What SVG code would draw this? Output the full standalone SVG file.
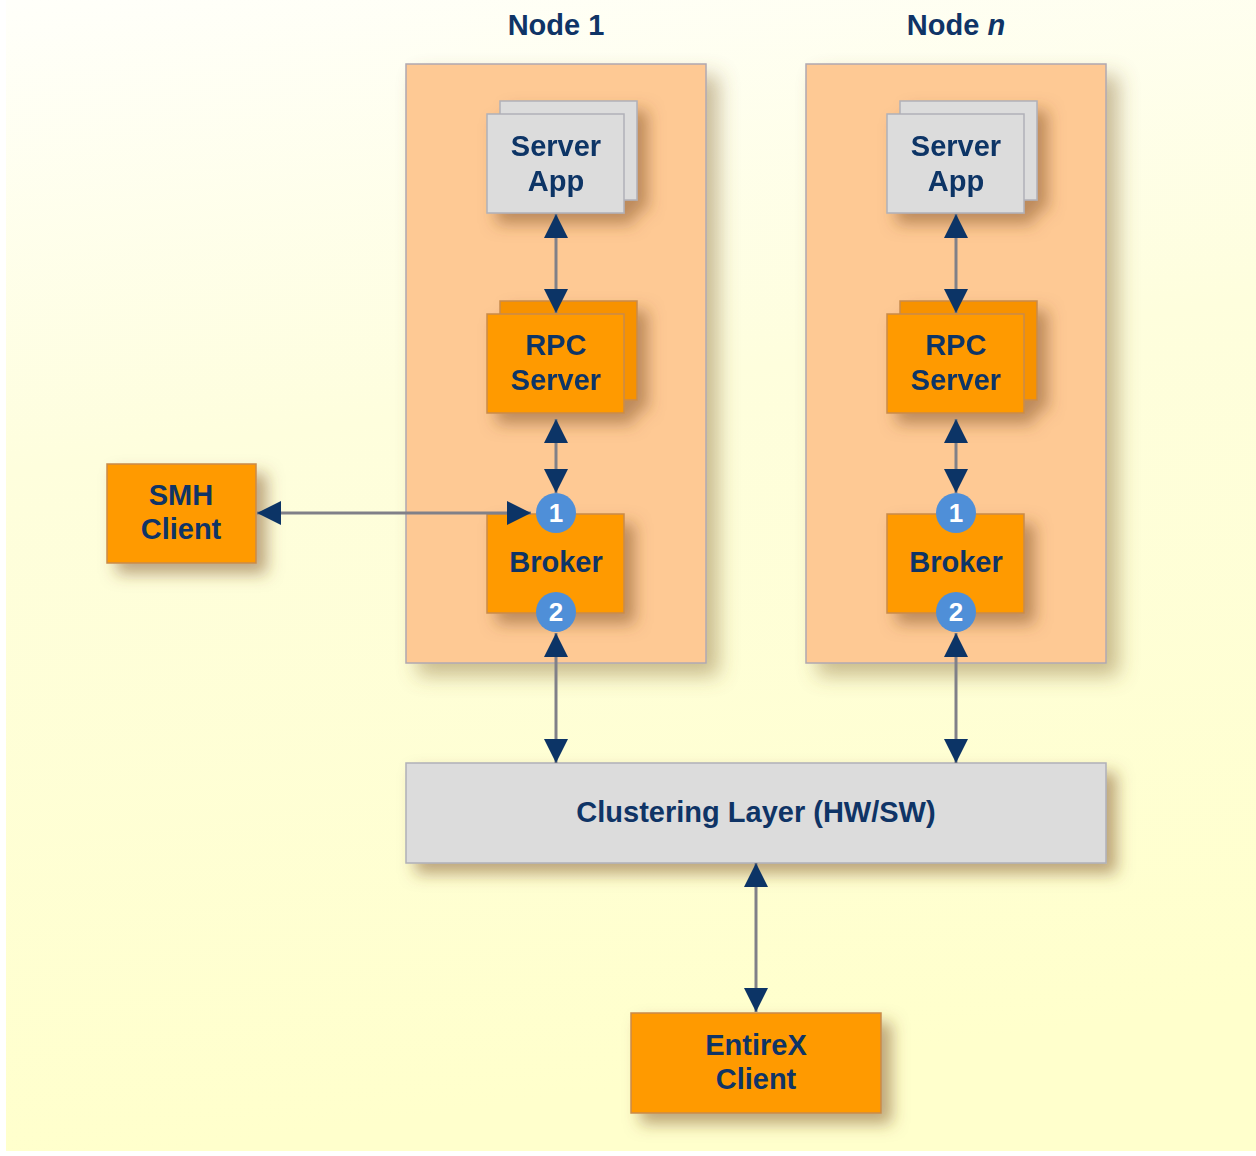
<svg xmlns="http://www.w3.org/2000/svg" width="1256" height="1156" viewBox="0 0 1256 1156">
  <defs>
    <linearGradient id="bg" x1="0" y1="0" x2="0.15" y2="1">
      <stop offset="0" stop-color="#fffffa"/>
      <stop offset="0.4" stop-color="#fefedd"/>
      <stop offset="1" stop-color="#ffffcc"/>
    </linearGradient>
    <filter id="shadow" x="-25%" y="-25%" width="160%" height="160%">
      <feDropShadow dx="10" dy="10" stdDeviation="8" flood-color="#7a4a20" flood-opacity="0.5"/>
    </filter>
    <filter id="shadowL" x="-20%" y="-10%" width="140%" height="130%">
      <feDropShadow dx="12" dy="12" stdDeviation="10" flood-color="#8a6a30" flood-opacity="0.45"/>
    </filter>
    <marker id="ah" viewBox="0 0 24 24" refX="24" refY="12" markerWidth="24" markerHeight="24" markerUnits="userSpaceOnUse" orient="auto-start-reverse">
      <path d="M0,0 L24,12 L0,24 Z" fill="#0c3466"/>
    </marker>
  </defs>
  <style>
    .cont { fill: #fec994; stroke: #b0a8b0; stroke-width: 1.5; }
    .gray { fill: #dcdcdc; stroke: #b0b0b8; stroke-width: 1.5; }
    .orange { fill: #ff9a00; stroke: #c98a4a; stroke-width: 1.5; }
    .orange2 { fill: #f79200; stroke: #c98a4a; stroke-width: 1.5; }
    .lbl { font-family: "Liberation Sans", Arial, Helvetica, sans-serif; font-weight: bold; font-size: 29px; fill: #0f3466; text-anchor: middle; }
    .num { font-family: "Liberation Sans", Arial, sans-serif; font-weight: bold; font-size: 26px; fill: #ffffff; text-anchor: middle; }
    .badge { fill: #4f8fd8; }
    .conn { stroke: #808088; stroke-width: 3; fill: none; marker-start: url(#ah); marker-end: url(#ah); }
  </style>

  <rect x="6" y="0" width="1250" height="1151" fill="url(#bg)"/>

  <!-- Node 1 container -->
  <g id="node1">
    <text class="lbl" x="556" y="35">Node 1</text>
    <rect class="cont" x="406" y="64" width="300" height="599" filter="url(#shadowL)"/>
  </g>
  <!-- Node n container -->
  <g id="noden">
    <text class="lbl" x="956" y="35">Node <tspan font-style="italic">n</tspan></text>
    <rect class="cont" x="806" y="64" width="300" height="599" filter="url(#shadowL)"/>
  </g>

  <!-- Server App -->
  <g id="serverapp1" filter="url(#shadow)">
    <rect class="gray" x="500" y="101" width="137" height="99"/>
    <rect class="gray" x="487" y="114" width="137" height="99"/>
    <text class="lbl" x="556" y="156">Server</text>
    <text class="lbl" x="556" y="191">App</text>
  </g>
  <g id="serverappn" filter="url(#shadow)">
    <rect class="gray" x="900" y="101" width="137" height="99"/>
    <rect class="gray" x="887" y="114" width="137" height="99"/>
    <text class="lbl" x="956" y="156">Server</text>
    <text class="lbl" x="956" y="191">App</text>
  </g>

  <!-- RPC Server -->
  <g id="rpc1" filter="url(#shadow)">
    <rect class="orange2" x="500" y="301" width="137" height="99"/>
    <rect class="orange" x="487" y="314" width="137" height="99"/>
    <text class="lbl" x="556" y="355">RPC</text>
    <text class="lbl" x="556" y="390">Server</text>
  </g>
  <g id="rpcn" filter="url(#shadow)">
    <rect class="orange2" x="900" y="301" width="137" height="99"/>
    <rect class="orange" x="887" y="314" width="137" height="99"/>
    <text class="lbl" x="956" y="355">RPC</text>
    <text class="lbl" x="956" y="390">Server</text>
  </g>

  <!-- Broker -->
  <g id="broker1">
    <rect class="orange" x="487" y="514" width="137" height="99" filter="url(#shadow)"/>
    <text class="lbl" x="556" y="572">Broker</text>
  </g>
  <g id="brokern">
    <rect class="orange" x="887" y="514" width="137" height="99" filter="url(#shadow)"/>
    <text class="lbl" x="956" y="572">Broker</text>
  </g>

  <!-- SMH Client -->
  <g id="smh">
    <rect class="orange" x="107" y="464" width="149" height="99" filter="url(#shadow)"/>
    <text class="lbl" x="181" y="505">SMH</text>
    <text class="lbl" x="181" y="539">Client</text>
  </g>

  <!-- Clustering Layer -->
  <g id="cluster">
    <rect class="gray" x="406" y="763" width="700" height="100" filter="url(#shadow)"/>
    <text class="lbl" x="756" y="822">Clustering Layer (HW/SW)</text>
  </g>

  <!-- EntireX Client -->
  <g id="entirex">
    <rect class="orange" x="631" y="1013" width="250" height="100" filter="url(#shadow)"/>
    <text class="lbl" x="756" y="1055">EntireX</text>
    <text class="lbl" x="756" y="1089">Client</text>
  </g>

  <!-- Connectors -->
  <g id="connectors">
    <line class="conn" x1="556" y1="214" x2="556" y2="313"/>
    <line class="conn" x1="956" y1="214" x2="956" y2="313"/>
    <line class="conn" x1="556" y1="419" x2="556" y2="493"/>
    <line class="conn" x1="956" y1="419" x2="956" y2="493"/>
    <line class="conn" x1="257" y1="513" x2="531" y2="513"/>
    <line class="conn" x1="556" y1="633" x2="556" y2="763"/>
    <line class="conn" x1="956" y1="633" x2="956" y2="763"/>
    <line class="conn" x1="756" y1="863" x2="756" y2="1012"/>
  </g>

  <!-- Badges -->
  <g id="badges">
    <circle class="badge" cx="556" cy="513" r="20"/>
    <text class="num" x="556" y="522">1</text>
    <circle class="badge" cx="556" cy="612" r="20"/>
    <text class="num" x="556" y="621">2</text>
    <circle class="badge" cx="956" cy="513" r="20"/>
    <text class="num" x="956" y="522">1</text>
    <circle class="badge" cx="956" cy="612" r="20"/>
    <text class="num" x="956" y="621">2</text>
  </g>
</svg>
